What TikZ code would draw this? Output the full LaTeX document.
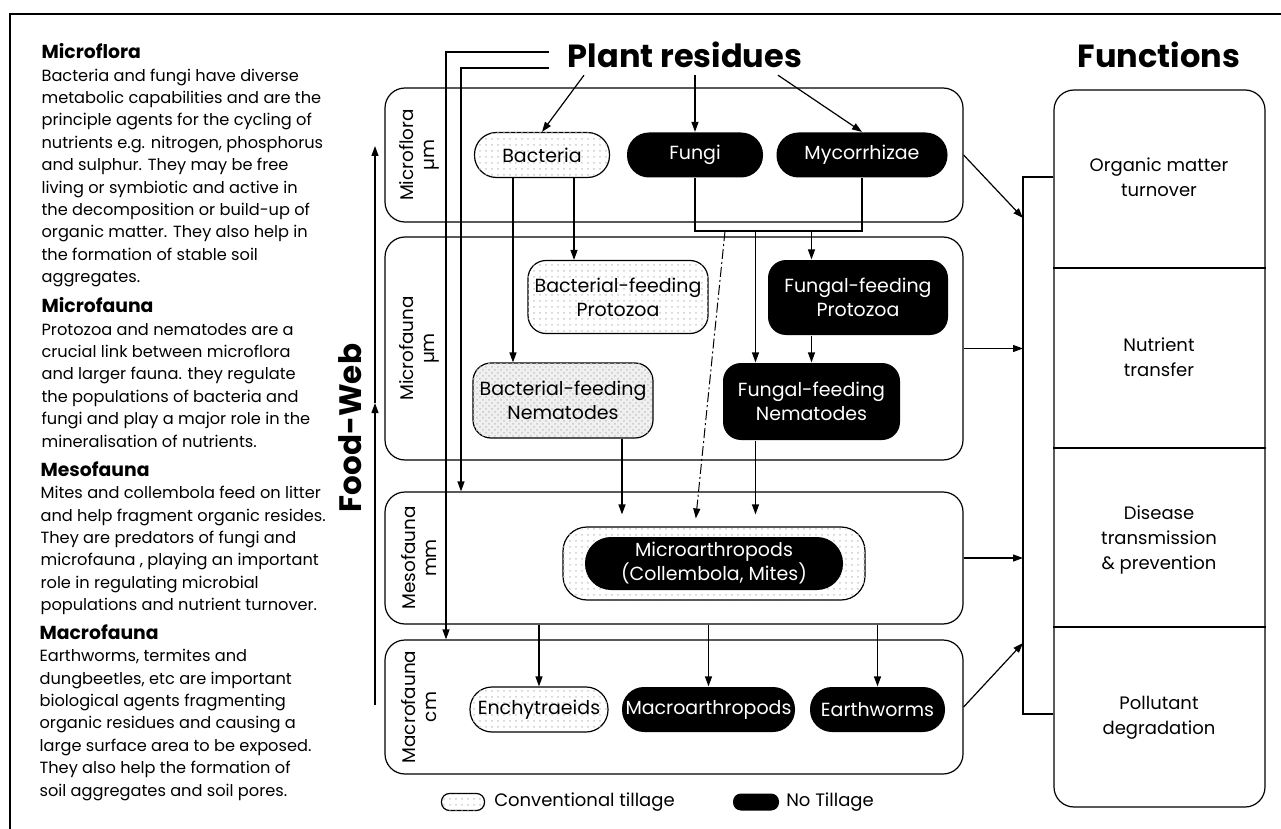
\documentclass[tikz,border=0pt]{standalone}
\usepackage{fontspec}
\setmainfont{Poppins}
\usetikzlibrary{arrows.meta,patterns}

\newcommand{\colhead}[1]{{\fontsize{9.4}{11.2}\selectfont\bfseries #1}}

\tikzset{
  arr/.style={-{Triangle[length=5pt,width=3.5pt]}},
  band/.style={draw, rounded corners=10pt, minimum width=289pt},
  pill/.style={rounded corners=11pt, minimum height=22.5pt, inner sep=0pt, align=center,
    font=\fontsize{9.5}{12}\selectfont},
  notill/.style={pill, fill=black, text=white},
  convtill/.style={pill, draw, fill=white, postaction={pattern=dots, pattern color=gray!40}},
  convdense/.style={pill, draw, fill=gray!12, postaction={pattern=crosshatch dots, pattern color=gray!45}},
  coltext/.style={anchor=north west, align=left, inner sep=0pt, font=\fontsize{8.1}{11.2}\selectfont},
  lvl/.style={rotate=90, align=center, font=\fontsize{9.2}{10.5}\selectfont},
  funtext/.style={align=center, font=\fontsize{9}{12.5}\selectfont},
  bighead/.style={font=\fontsize{16}{16}\selectfont\bfseries},
}

\begin{document}
\begin{tikzpicture}[x=0.5pt, y=-0.5pt, line width=0.6pt]
  \useasboundingbox (0,0) rectangle (1281,829);
  % frame
  \draw[line width=1.2pt] (10,829) -- (10,14) -- (1281,14);

  % left column
  \node[coltext] (tflora) at (41,43) {\colhead{Microflora}\\
    Bacteria and fungi have diverse\\
    metabolic capabilities and are the\\
    principle agents for the cycling of\\
    nutrients e.g. nitrogen, phosphorus\\
    and sulphur. They may be free\\
    living or symbiotic and active in\\
    the decomposition or build-up of\\
    organic matter. They also help in\\
    the formation of stable soil\\
    aggregates.};
  \node[coltext] (tfauna) at (41,297) {\colhead{Microfauna}\\
    Protozoa and nematodes are a\\
    crucial link between microflora\\
    and larger fauna. they regulate\\
    the populations of bacteria and\\
    fungi and play a major role in the\\
    mineralisation of nutrients.};
  \node[coltext] (tmeso) at (40,461) {\colhead{Mesofauna}\\
    Mites and collembola feed on litter\\
    and help fragment organic resides.\\
    They are predators of fungi and\\
    microfauna , playing an important\\
    role in regulating microbial\\
    populations and nutrient turnover.};
  \node[coltext] (tmacro) at (39,624) {\colhead{Macrofauna}\\
    Earthworms, termites and\\
    dungbeetles, etc are important\\
    biological agents fragmenting\\
    organic residues and causing a\\
    large surface area to be exposed.\\
    They also help the formation of\\
    soil aggregates and soil pores.};

  % headings
  \node[bighead] (res) at (685,55) {Plant residues};
  \node[bighead] (fhead) at (1159,55) {Functions};
  \node[rotate=90, font=\fontsize{15.5}{15.5}\selectfont\bfseries] (fw) at (350,428) {Food-Web};

  % food-web line
  \coordinate (fwlo) at (375,705);
  \coordinate (fwmid) at (375,403);
  \coordinate (fwhi) at (375,146);
  \draw[arr] (fwlo) -- (fwmid);
  \draw[arr] (fwmid) -- (fwhi);

  % level bands
  \node[band, minimum height=67pt] (flora) at (674,155) {};
  \node[band, minimum height=111.5pt] (fauna) at (674,348.5) {};
  \node[band, minimum height=66pt] (meso) at (674,558) {};
  \node[band, minimum height=67pt] (macbox) at (674,707) {};
  \node[lvl] (lflora) at ([xshift=17.5pt]flora.west) {Microflora\\µm};
  \node[lvl] (lfauna) at ([xshift=17.5pt]fauna.west) {Microfauna\\µm};
  \node[lvl] (lmeso) at ([xshift=17.5pt]meso.west) {Mesofauna\\mm};
  \node[lvl] (lmacro) at ([xshift=17.5pt]macbox.west) {Macrofauna\\cm};

  % organisms
  \node[convtill, minimum width=67.5pt] (bac) at (542,155) {Bacteria};
  \node[notill, minimum width=68pt] (fun) at (695,155) {Fungi};
  \node[notill, minimum width=85.5pt] (myc) at (862,155) {Mycorrhizae};
  \node[convtill, minimum width=90pt, minimum height=36.5pt, rounded corners=9pt] (bfp) at (618,297) {Bacterial-feeding\\Protozoa};
  \node[notill, minimum width=90pt, minimum height=37.5pt, rounded corners=9pt] (ffp) at (858,297.5) {Fungal-feeding\\Protozoa};
  \node[convdense, minimum width=90pt, minimum height=37.5pt, rounded corners=9pt] (bfn) at (563,400.5) {Bacterial-feeding\\Nematodes};
  \node[notill, minimum width=88.5pt, minimum height=38.5pt, rounded corners=9pt] (ffn) at (811.5,401.5) {Fungal-feeding\\Nematodes};
  \node[convtill, minimum width=151pt, minimum height=36.5pt, rounded corners=12pt] (arthbg) at (714,563.5) {};
  \node[notill, minimum width=129pt, minimum height=26.5pt, rounded corners=13pt] (arth) at (714,563.5) {Microarthropods\\(Collembola, Mites)};
  \node[convtill, minimum width=69pt] (ench) at (539,709.5) {Enchytraeids};
  \node[notill, minimum width=86.5pt] (macro) at (708.5,709.5) {Macroarthropods};
  \node[notill, minimum width=67.5pt] (worm) at (877.5,709.5) {Earthworms};

  % plant residues
  \draw[arr] ([xshift=-50.5pt]res.south) -- (bac.north);
  \draw[arr] (res.south -| fun.north) -- (fun.north);
  \draw[arr] ([xshift=46.5pt]res.south) -- (myc.north);
  \coordinate (dnA) at (446,0);
  \coordinate (dnB) at (461,0);
  \draw[arr] ([shift={(-6pt,1.5pt)}]res.west) -| (dnA |- macbox.north);
  \draw[arr] ([shift={(-6pt,-6.5pt)}]res.west) -| (dnB |- meso.north);

  % microflora to microfauna
  \draw[arr] ([xshift=-14.5pt]bac.south) -- ([xshift=-14.5pt]bac.south |- bfn.north);
  \draw[arr] ([xshift=16pt]bac.south) -- ([xshift=16pt]bac.south |- bfp.north);
  \draw (fun.south) -- ++(0,53) coordinate (fm) -| (myc.south);
  \coordinate (ffx) at ([xshift=-28pt]ffn.north);
  \draw[arr] (fm -| ffn.north) -- (ffp.north -| ffn.north);
  \draw[arr] (fm -| ffx) -- (ffx);
  \draw[arr] (ffp.south -| ffn.north) -- (ffn.north);

  % to mesofauna
  \draw[arr, shorten >=6pt] (ffx |- ffn.south) -- (ffx |- arthbg.north);
  \draw[arr, shorten >=6pt] ([xshift=29.5pt]bfn.south) -- ([xshift=29.5pt]bfn.south |- arthbg.north);
  \draw[arr, shorten >=4pt, line width=0.5pt, dash pattern=on 5pt off 1.5pt on 1pt off 1.5pt] ([xshift=15pt]fm) -- (fm |- arthbg.north);

  % to macrofauna
  \draw[arr] (meso.south -| ench.north) -- (ench.north);
  \draw[arr] (meso.south -| macro.north) -- (macro.north);
  \draw[arr] (meso.south -| worm.north) -- (worm.north);

  % functions
  \node[draw, rounded corners=10pt, minimum width=105.5pt, minimum height=358.5pt] (func) at (1159.5,448.5) {};
  \foreach \y in {268,448,627}
    \draw (func.west |- 0,\y) -- (func.east |- 0,\y);
  \node[funtext] (fom) at (1159,177) {Organic matter\\turnover};
  \node[funtext] (fnt) at (1159,357) {Nutrient\\transfer};
  \node[funtext] (fdt) at (1159,540) {Disease\\transmission\\\& prevention};
  \node[funtext] (fpd) at (1159,718) {Pollutant\\degradation};

  \coordinate (bus) at (1023,448);
  \draw (func.west |- 0,177) -| (bus |- 0,714) -- (func.west |- 0,714);
  \draw[arr] (flora.east) -- (bus |- 0,218);
  \draw[arr] (fauna.east) -- (fauna.east -| bus);
  \draw[arr] (meso.east) -- (meso.east -| bus);
  \draw[arr] (macbox.east) -- (bus |- 0,643);

  % legend
  \node[convtill, minimum width=21.5pt, minimum height=8.5pt, rounded corners=4pt] (kconv) at (463,802) {};
  \node[anchor=west, font=\fontsize{9}{11}\selectfont] (kconvt) at (487,802) {Conventional tillage};
  \node[notill, minimum width=23pt, minimum height=8.5pt, rounded corners=4pt] (knot) at (756,802) {};
  \node[anchor=west, font=\fontsize{9}{11}\selectfont] (knott) at (779,802) {No Tillage};
\end{tikzpicture}
\end{document}
